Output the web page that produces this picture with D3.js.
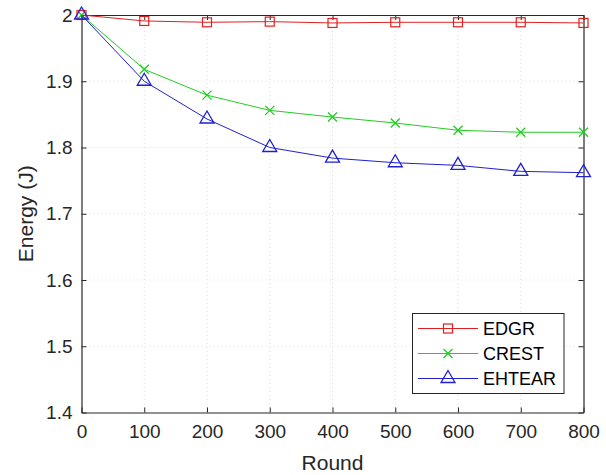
<!DOCTYPE html>
<html><head><meta charset="utf-8">
<script src="https://cdn.jsdelivr.net/npm/d3@7"></script>
<style>body{margin:0;background:#fff}svg{display:block;font-family:Arial,"Liberation Sans",sans-serif}</style>
</head><body><svg id="c" width="606" height="475"></svg>
<script>
const rounds = [0,100,200,300,400,500,600,700,800];
const edgr   = [2.000,1.991,1.989,1.990,1.988,1.989,1.989,1.989,1.988];
const crest  = [2.000,1.918,1.879,1.856,1.846,1.837,1.826,1.823,1.823];
const ehtear = [2.000,1.900,1.843,1.800,1.784,1.777,1.773,1.764,1.762];
const xTicks = [0,100,200,300,400,500,600,700,800];
const yTicks = [1.4,1.5,1.6,1.7,1.8,1.9,2];
const seriesNames = ["EDGR","CREST","EHTEAR"];
const seriesColors = ["#e02020","#22cc22","#2020d0"];
const seriesMarkers = ["square","x","triangle"];

const svg = d3.select("#c");
const L=81.5, R=583.5, T=15, B=412.5;
const x = d3.scaleLinear().domain([0,800]).range([L,R]);
const y = d3.scaleLinear().domain([1.4,2]).range([B,T]);
const txt="#262626";

// grid
const g = svg.append("g");
g.selectAll(".gx").data(xTicks.slice(1,-1)).join("line")
 .attr("x1",d=>x(d)).attr("x2",d=>x(d)).attr("y1",T).attr("y2",B)
 .attr("stroke","#dcdcdc").attr("stroke-dasharray","1,3");
g.selectAll(".gy").data(yTicks.slice(1,-1)).join("line")
 .attr("y1",d=>y(d)).attr("y2",d=>y(d)).attr("x1",L).attr("x2",R)
 .attr("stroke","#dcdcdc").attr("stroke-dasharray","1,3");

// axes
const ax = svg.append("g").attr("transform",`translate(0,${B})`)
 .call(d3.axisBottom(x).tickValues(xTicks).tickSizeInner(-5).tickSizeOuter(0).tickPadding(12));
const ay = svg.append("g").attr("transform",`translate(${L},0)`)
 .call(d3.axisLeft(y).tickValues(yTicks).tickFormat(d3.format("~g")).tickSizeInner(-5).tickSizeOuter(0).tickPadding(9));
const axT = svg.append("g").attr("transform",`translate(0,${T})`)
 .call(d3.axisTop(x).tickValues(xTicks).tickSizeInner(-5).tickSizeOuter(0).tickFormat(""));
const ayR = svg.append("g").attr("transform",`translate(${R},0)`)
 .call(d3.axisRight(y).tickValues(yTicks).tickSizeInner(-5).tickSizeOuter(0).tickFormat(""));
[ax,ay,axT,ayR].forEach(a=>{
  a.selectAll("path").attr("stroke","#262626").attr("stroke-width",1.2);
  a.selectAll("line").attr("stroke","#262626");
  a.selectAll("text").attr("fill",txt).attr("font-size",19).attr("font-family","Arial, 'Liberation Sans', sans-serif");
});
ax.selectAll("text").attr("dy","0.71em");

// labels
svg.append("text").attr("x",(L+R)/2).attr("y",470).attr("text-anchor","middle")
 .attr("font-size",21).attr("fill",txt).text("Round");
svg.append("text").attr("transform",`translate(33,${(T+B)/2}) rotate(-90)`).attr("text-anchor","middle")
 .attr("font-size",21).attr("fill",txt).text("Energy (J)");

function marker(sel, type, color){
  if(type==="square") sel.append("rect").attr("x",-4.5).attr("y",-4.5).attr("width",9).attr("height",9)
    .attr("fill","none").attr("stroke",color).attr("stroke-width",1.2);
  else if(type==="x") sel.append("path").attr("d","M-4.5,-4.5L4.5,4.5M-4.5,4.5L4.5,-4.5")
    .attr("stroke",color).attr("stroke-width",1.3);
  else sel.append("path").attr("d","M0,-8L7,4L-7,4Z").attr("fill","none").attr("stroke",color).attr("stroke-width",1.3);
}

const data=[edgr,crest,ehtear];
const line=d3.line().x((d,i)=>x(rounds[i])).y(d=>y(d));
data.forEach((vals,k)=>{
  svg.append("path").datum(vals).attr("d",line).attr("fill","none")
   .attr("stroke",seriesColors[k]).attr("stroke-width",1);
  vals.forEach((v,i)=>{
    const m=svg.append("g").attr("transform",`translate(${x(rounds[i])},${y(v)})`);
    marker(m,seriesMarkers[k],seriesColors[k]);
  });
});

// legend
const lg=svg.append("g");
lg.append("rect").attr("x",412.5).attr("y",313.5).attr("width",151.5).attr("height",80)
 .attr("fill","#fff").attr("stroke","#262626").attr("stroke-width",1);
seriesNames.forEach((n,k)=>{
  const yy=328.5+k*25;
  lg.append("line").attr("x1",418).attr("x2",478).attr("y1",yy).attr("y2",yy)
   .attr("stroke",seriesColors[k]).attr("stroke-width",1);
  const m=lg.append("g").attr("transform",`translate(448,${yy})`);
  marker(m,seriesMarkers[k],seriesColors[k]);
  lg.append("text").attr("x",483).attr("y",yy).attr("dy","0.36em").attr("font-size",18)
   .attr("fill","#000").text(n);
});
</script></body></html>
